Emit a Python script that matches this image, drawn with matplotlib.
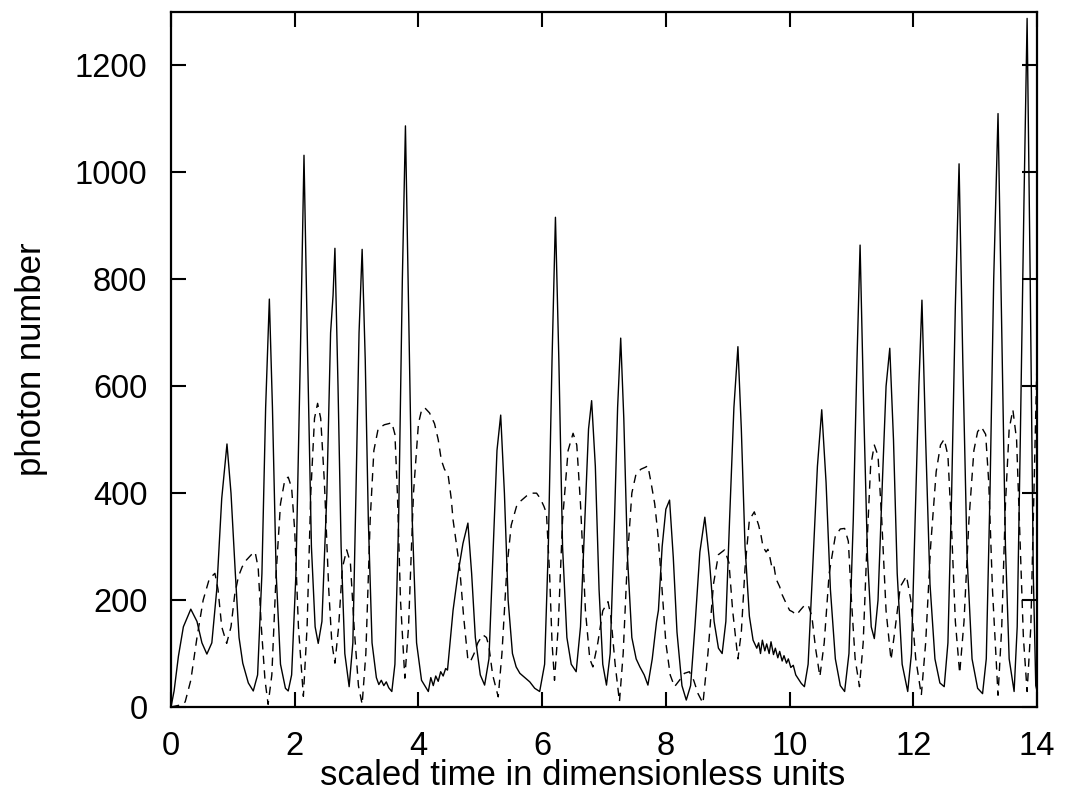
import matplotlib
matplotlib.use("Agg")
import matplotlib.pyplot as plt

plt.rcParams['font.family'] = ['Liberation Sans', 'DejaVu Sans']

# solid curve: photon number of first mode (time, value)
solid_t = [0.00, 0.05, 0.12, 0.20, 0.32, 0.42, 0.50, 0.58, 0.66, 0.74, 0.82, 0.905, 0.97, 1.04, 1.10,
           1.16, 1.25, 1.33, 1.40, 1.47, 1.53, 1.59, 1.64, 1.70, 1.77, 1.85, 1.895, 1.95, 2.02, 2.09,
           2.15, 2.21, 2.27, 2.33, 2.38, 2.44, 2.52, 2.58, 2.62, 2.65, 2.70, 2.75, 2.81, 2.88, 2.94,
           2.99, 3.04, 3.09, 3.14, 3.19, 3.25, 3.32, 3.36, 3.40, 3.44, 3.48, 3.52, 3.57, 3.62, 3.68,
           3.74, 3.79, 3.84, 3.90, 3.97, 4.05, 4.16, 4.20, 4.24, 4.28, 4.32, 4.36, 4.40, 4.44, 4.47,
           4.52, 4.56, 4.64, 4.72, 4.80, 4.86, 4.92, 5.00, 5.07, 5.14, 5.21, 5.27, 5.33, 5.39, 5.45,
           5.52, 5.58, 5.64, 5.72, 5.80, 5.88, 5.96, 6.04, 6.10, 6.16, 6.215, 6.27, 6.33, 6.40, 6.47,
           6.55, 6.62, 6.69, 6.75, 6.80, 6.86, 6.92, 6.98, 7.04, 7.10, 7.17, 7.22, 7.27, 7.32, 7.38,
           7.45, 7.52, 7.58, 7.65, 7.71, 7.78, 7.85, 7.88, 7.94, 8.00, 8.06, 8.12, 8.18, 8.26, 8.33,
           8.40, 8.47, 8.55, 8.63, 8.70, 8.78, 8.85, 8.91, 8.97, 9.03, 9.10, 9.165, 9.22, 9.28, 9.35,
           9.41, 9.47, 9.50, 9.53, 9.56, 9.60, 9.63, 9.67, 9.70, 9.74, 9.77, 9.81, 9.84, 9.88, 9.91,
           9.95, 9.98, 10.02, 10.06, 10.10, 10.19, 10.24, 10.30, 10.37, 10.45, 10.52, 10.59, 10.66, 10.74, 10.82,
           10.89, 10.96, 11.03, 11.09, 11.14, 11.20, 11.26, 11.32, 11.37, 11.43, 11.50, 11.56, 11.62, 11.68, 11.74,
           11.82, 11.91, 11.97, 12.03, 12.09, 12.14, 12.20, 12.27, 12.35, 12.43, 12.50, 12.56, 12.62, 12.68, 12.74,
           12.80, 12.87, 12.95, 13.04, 13.12, 13.18, 13.24, 13.30, 13.37, 13.43, 13.49, 13.55, 13.63, 13.68, 13.73,
           13.79, 13.84, 13.89, 13.94, 13.98, 14.00]
solid_n = [0, 30, 95, 150, 183, 160, 120, 99, 120, 220, 390, 492, 400, 250, 130,
           82, 45, 30, 60, 250, 560, 763, 560, 250, 80, 35, 30, 60, 250, 650,
           1032, 650, 300, 150, 119, 160, 400, 700, 770, 858, 600, 300, 100, 38, 120,
           400, 700, 856, 650, 350, 120, 55, 42, 50, 40, 47, 36, 29, 80, 350,
           800, 1087, 750, 350, 120, 50, 29, 55, 40, 58, 48, 66, 58, 72, 69,
           130, 181, 250, 306, 344, 250, 130, 60, 41, 90, 300, 480, 546, 400, 200,
           100, 75, 63, 55, 47, 35, 29, 80, 300, 650, 916, 650, 300, 130, 80,
           66, 150, 350, 520, 573, 450, 220, 80, 41, 100, 350, 560, 690, 540, 280,
           130, 90, 75, 60, 41, 90, 160, 181, 300, 370, 387, 280, 140, 40, 13,
           40, 150, 290, 355, 280, 160, 110, 100, 160, 350, 560, 674, 520, 300, 170,
           125, 110, 120, 100, 125, 105, 118, 100, 122, 98, 110, 92, 104, 86, 96,
           82, 90, 74, 78, 60, 44, 38, 80, 250, 450, 556, 420, 220, 90, 40,
           29, 100, 350, 650, 864, 550, 280, 150, 128, 200, 420, 600, 671, 500, 250,
           80, 29, 100, 350, 600, 761, 500, 230, 90, 45, 38, 120, 400, 750, 1016,
           650, 280, 90, 35, 25, 90, 400, 800, 1110, 700, 300, 90, 29, 150, 500,
           950, 1288, 800, 250, 40, 30]

# dashed curve: photon number of second mode
dashed_t = [0.00, 0.20, 0.23, 0.32, 0.42, 0.52, 0.62, 0.71, 0.76, 0.82, 0.90, 0.97, 1.03, 1.09, 1.15,
            1.22, 1.30, 1.36, 1.41, 1.46, 1.52, 1.57, 1.63, 1.70, 1.77, 1.84, 1.895, 1.95, 2.00, 2.06,
            2.14, 2.20, 2.26, 2.32, 2.37, 2.42, 2.48, 2.55, 2.60, 2.65, 2.71, 2.77, 2.84, 2.90, 2.96,
            3.03, 3.09, 3.15, 3.22, 3.28, 3.35, 3.45, 3.52, 3.57, 3.62, 3.66, 3.71, 3.78, 3.84, 3.92,
            4.00, 4.05, 4.10, 4.18, 4.26, 4.32, 4.37, 4.42, 4.48, 4.53, 4.56, 4.62, 4.67, 4.73, 4.80,
            4.84, 4.90, 4.96, 5.04, 5.10, 5.14, 5.20, 5.29, 5.35, 5.43, 5.50, 5.585, 5.65, 5.75, 5.83,
            5.91, 5.97, 6.03, 6.07, 6.12, 6.16, 6.20, 6.26, 6.33, 6.42, 6.50, 6.56, 6.62, 6.70, 6.77,
            6.82, 6.90, 6.98, 7.065, 7.11, 7.18, 7.25, 7.31, 7.38, 7.45, 7.52, 7.60, 7.66, 7.71, 7.76,
            7.82, 7.87, 7.92, 8.00, 8.07, 8.14, 8.22, 8.30, 8.38, 8.45, 8.52, 8.60, 8.68, 8.77, 8.85,
            8.95, 9.02, 9.08, 9.165, 9.22, 9.28, 9.35, 9.43, 9.50, 9.54, 9.57, 9.62, 9.65, 9.68, 9.72,
            9.75, 9.78, 9.84, 9.88, 9.94, 10.00, 10.05, 10.11, 10.18, 10.24, 10.30, 10.36, 10.42, 10.49, 10.56,
            10.64, 10.74, 10.82, 10.89, 10.95, 11.00, 11.06, 11.13, 11.19, 11.25, 11.31, 11.37, 11.43, 11.49, 11.56,
            11.64, 11.71, 11.79, 11.89, 11.96, 12.04, 12.13, 12.20, 12.28, 12.37, 12.44, 12.50, 12.56, 12.62, 12.68,
            12.75, 12.82, 12.90, 12.98, 13.04, 13.10, 13.17, 13.22, 13.28, 13.37, 13.43, 13.49, 13.55, 13.61, 13.67,
            13.72, 13.78, 13.84, 13.90, 13.95, 14.00]
dashed_n = [0, 5, 10, 50, 130, 200, 240, 250, 220, 150, 119, 150, 210, 244, 262,
            275, 285, 290, 260, 150, 50, 5, 60, 250, 380, 425, 430, 410, 330, 150,
            20, 150, 400, 540, 568, 540, 420, 220, 120, 82, 150, 260, 294, 270, 150,
            40, 5, 100, 350, 480, 521, 528, 530, 532, 510, 400, 200, 54, 150, 400,
            530, 555, 560, 550, 530, 500, 462, 445, 434, 390, 350, 300, 256, 170, 88,
            85, 100, 120, 135, 130, 113, 60, 19, 100, 260, 340, 375, 385, 395, 400,
            400, 390, 375, 362, 250, 120, 50, 150, 350, 480, 512, 490, 380, 180, 90,
            75, 120, 180, 197, 170, 80, 10, 100, 280, 400, 437, 445, 448, 451, 420,
            380, 325, 250, 120, 60, 38, 50, 63, 66, 50, 25, 7, 100, 230, 285,
            294, 270, 180, 90, 140, 260, 350, 365, 340, 320, 300, 290, 295, 281, 258,
            262, 240, 225, 210, 195, 181, 178, 172, 182, 190, 191, 170, 110, 57, 120,
            250, 320, 333, 334, 310, 200, 90, 38, 120, 300, 450, 490, 470, 350, 180,
            88, 150, 225, 245, 200, 90, 22, 120, 300, 440, 490, 501, 470, 330, 160,
            63, 160, 350, 480, 515, 524, 510, 420, 220, 22, 150, 380, 520, 556, 500,
            330, 130, 29, 150, 400, 650]

x_ticks = [0, 2, 4, 6, 8, 10, 12, 14]
y_ticks = [0, 200, 400, 600, 800, 1000, 1200]

fig = plt.figure(figsize=(10.66, 8.02), dpi=100)
ax = fig.add_axes([171 / 1066, 95 / 802, 866 / 1066, 695 / 802])

ax.plot(solid_t, solid_n, color='black', lw=1.0)
ax.plot(dashed_t, dashed_n, color='black', lw=1.0, dashes=(6, 4.5))

ax.set_xlim(0, 14)
ax.set_ylim(0, 1300)
ax.set_xticks(x_ticks)
ax.set_yticks(y_ticks)
ax.tick_params(direction='in', length=11, width=1.5, top=True, right=True,
               labelsize=23.5, pad=17)
for s in ax.spines.values():
    s.set_linewidth(1.6)

ax.set_xlabel('scaled time in dimensionless units', fontsize=25)
ax.set_ylabel('photon number', fontsize=25)
ax.xaxis.set_label_coords(0.475, -0.075)
ax.yaxis.set_label_coords(-0.142, 0.5)

fig.savefig('out.png', dpi=100)
